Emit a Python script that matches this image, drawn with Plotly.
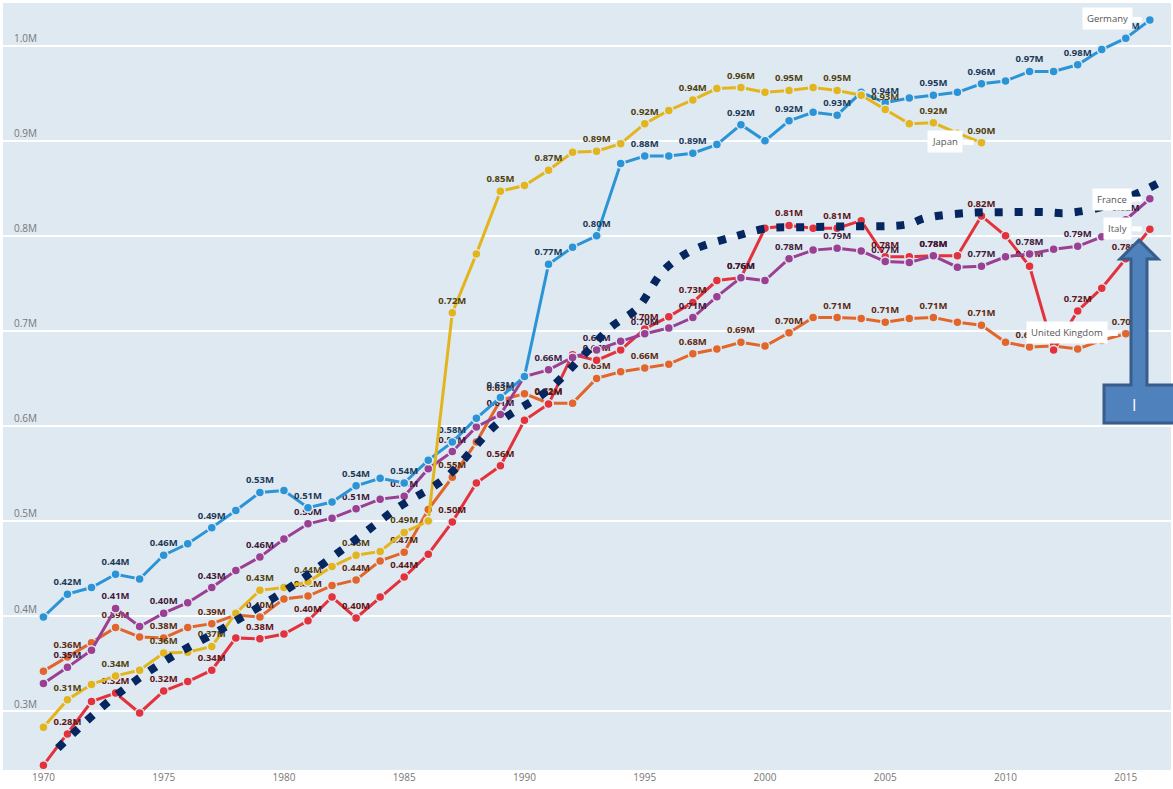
import plotly.graph_objects as go

years = list(range(1970, 2017))

germany = [0.399, 0.423, 0.430, 0.444, 0.439, 0.464, 0.476, 0.493, 0.511, 0.530,
           0.532, 0.514, 0.520, 0.537, 0.545, 0.540, 0.564, 0.583, 0.608, 0.630,
           0.652, 0.770, 0.788, 0.800, 0.876, 0.884, 0.884, 0.887, 0.896, 0.917,
           0.900, 0.921, 0.930, 0.927, 0.951, 0.940, 0.945, 0.948, 0.951, 0.960,
           0.963, 0.973, 0.973, 0.980, 0.996, 1.008, 1.027]

japan_years = list(range(1970, 2010))
japan = [0.283, 0.312, 0.328, 0.337, 0.343, 0.361, 0.362, 0.368, 0.403, 0.427,
         0.430, 0.436, 0.452, 0.464, 0.468, 0.488, 0.500, 0.719, 0.781, 0.847,
         0.853, 0.869, 0.888, 0.889, 0.897, 0.918, 0.932, 0.943, 0.955, 0.956,
         0.951, 0.953, 0.956, 0.953, 0.948, 0.933, 0.918, 0.919, 0.908, 0.898]

france = [0.329, 0.346, 0.364, 0.408, 0.389, 0.403, 0.414, 0.430, 0.448, 0.462,
          0.481, 0.497, 0.503, 0.513, 0.523, 0.526, 0.555, 0.573, 0.599, 0.612,
          0.652, 0.659, 0.672, 0.680, 0.689, 0.697, 0.703, 0.714, 0.736, 0.756,
          0.753, 0.776, 0.785, 0.787, 0.784, 0.773, 0.772, 0.779, 0.767, 0.768,
          0.778, 0.781, 0.786, 0.789, 0.799, 0.817, 0.839]

italy = [0.243, 0.276, 0.310, 0.319, 0.298, 0.321, 0.331, 0.343, 0.377, 0.376,
         0.381, 0.395, 0.420, 0.398, 0.420, 0.441, 0.465, 0.499, 0.540, 0.558,
         0.606, 0.623, 0.675, 0.669, 0.680, 0.702, 0.715, 0.730, 0.753, 0.756,
         0.808, 0.811, 0.808, 0.808, 0.816, 0.778, 0.778, 0.779, 0.779, 0.821,
         0.800, 0.768, 0.680, 0.721, 0.745, 0.776, 0.807]

uk_years = list(range(1970, 2016))
uk = [0.342, 0.357, 0.372, 0.388, 0.378, 0.377, 0.388, 0.392, 0.401, 0.399,
      0.418, 0.421, 0.432, 0.438, 0.458, 0.467, 0.512, 0.546, 0.583, 0.627,
      0.634, 0.624, 0.624, 0.650, 0.657, 0.661, 0.665, 0.676, 0.681, 0.688,
      0.684, 0.698, 0.714, 0.714, 0.713, 0.709, 0.713, 0.714, 0.709, 0.706,
      0.688, 0.683, 0.684, 0.681, 0.690, 0.697]

trend_x = [1970.6, 1972.8, 1975.0, 1977.6, 1980.3, 1982.8, 1984.8, 1986.7, 1988.9,
           1990.9, 1992.4, 1993.6, 1994.7, 1995.8, 1997.0, 1998.7, 2000.1, 2001.4,
           2003.4, 2005.9, 2006.7, 2008.4, 2010.0, 2011.6, 2012.5, 2014.1, 2015.6, 2016.4]
trend_y = [0.261, 0.312, 0.352, 0.389, 0.431, 0.477, 0.515, 0.545, 0.603,
           0.636, 0.673, 0.704, 0.724, 0.764, 0.785, 0.799, 0.808, 0.809,
           0.810, 0.812, 0.819, 0.824, 0.825, 0.825, 0.824, 0.831, 0.846, 0.856]

y_ticks = [0.3, 0.4, 0.5, 0.6, 0.7, 0.8, 0.9, 1.0]
x_ticks = [1970, 1975, 1980, 1985, 1990, 1995, 2000, 2005, 2010, 2015]

series = [
    ("United Kingdom", uk_years, uk, "#e2662b", "#5e2a10"),
    ("Italy", years, italy, "#e3323b", "#5e1518"),
    ("France", years, france, "#9b3f93", "#3f1a3c"),
    ("Germany", years, germany, "#2a94d6", "#1c3a58"),
    ("Japan", japan_years, japan, "#e3b51c", "#4f4210"),
]

BG = "#dfe9f1"
fig = go.Figure()
for name, xs, ys, col, tcol in series:
    txt = [f"{v:.2f}M" if yr % 2 == 1 else "" for yr, v in zip(xs, ys)]
    fig.add_trace(go.Scatter(
        x=xs, y=ys, mode="lines+markers+text", name=name,
        line=dict(color=col, width=3),
        marker=dict(size=9, color=col, line=dict(color=BG, width=1.5)),
        text=txt, textposition="top center",
        textfont=dict(family="Open Sans", size=9.5, color=tcol, weight="bold"),
        showlegend=False, cliponaxis=False, hoverinfo="skip",
    ))

fig.add_trace(go.Scatter(
    x=trend_x, y=trend_y, mode="lines",
    line=dict(color="#062660", width=8, dash="8px,12px", shape="spline"),
    showlegend=False, hoverinfo="skip",
))

# series name boxes
name_boxes = [
    ("Germany", 2016, germany[-1], -42, -2),
    ("Japan", 2009, japan[-1], -36, -1),
    ("France", 2016, france[-1], -38, 1),
    ("Italy", 2016, italy[-1], -32, -1),
    ("United Kingdom", 2015, uk[-1], -59, -1),
]
for txt, xv, yv, ax, ay in name_boxes:
    fig.add_annotation(
        x=xv, y=yv, text=txt, showarrow=True, ax=ax, ay=ay,
        arrowcolor="white", arrowwidth=5, arrowhead=0, standoff=8,
        bgcolor="white", borderpad=4,
        font=dict(family="Open Sans", size=9.5, color="#555555"),
    )

# overlay arrow callout (pixel positions -> paper)
L, T, W, H = 3, 3, 1168, 767
def px(x):
    return (x - L) / W
def py(y):
    return 1 - (y - T) / H

pts = [(1139, 240), (1158, 259), (1147, 259), (1147, 385), (1176, 385), (1176, 423),
       (1104, 423), (1104, 385), (1131, 385), (1131, 259), (1120, 259)]
path = "M " + " L ".join(f"{px(a):.5f},{py(b):.5f}" for a, b in pts) + " Z"
fig.add_shape(type="path", path=path, xref="paper", yref="paper",
              fillcolor="#4f81bd", line=dict(color="#385d8a", width=3), layer="above")
fig.add_annotation(x=px(1138), y=py(405), xref="paper", yref="paper", text="I",
                   showarrow=False, font=dict(family="Open Sans", size=16, color="white"))

fig.update_layout(
    width=1173, height=789,
    margin=dict(l=L, r=2, t=T, b=19),
    paper_bgcolor="white", plot_bgcolor=BG,
    font=dict(family="Open Sans"),
    hovermode=False,
    xaxis=dict(range=[1968.32, 2016.88], tickvals=x_ticks, showgrid=False,
               zeroline=False, showline=False, ticks="",
               tickfont=dict(size=10, color="#777777")),
    yaxis=dict(range=[0.238, 1.045], tickvals=y_ticks,
               ticktext=[f"{v:.1f}M" for v in y_ticks],
               ticklabelposition="inside top", showgrid=True,
               gridcolor="white", gridwidth=1.5, zeroline=False,
               tickfont=dict(size=10, color="#777777"), ticklabelstandoff=8),
)

fig.write_html("out.html", config={"displayModeBar": False},
               post_script="document.body.style.margin='0';document.body.style.overflow='hidden';")
